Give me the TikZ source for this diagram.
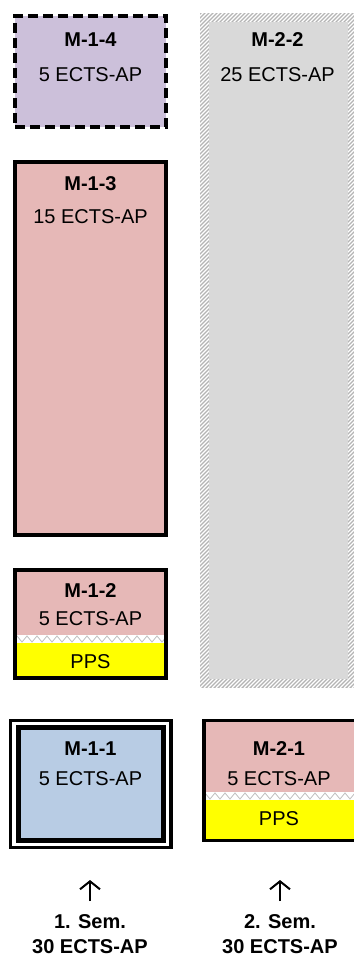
\documentclass[tikz,border=0pt]{standalone}
\usepackage{fontspec}
\setmainfont{Liberation Sans}
\usetikzlibrary{arrows.meta}
\definecolor{lavc}{HTML}{CCC0DA}
\definecolor{pinkc}{HTML}{E6B8B7}
\definecolor{bluec}{HTML}{B8CCE4}
\definecolor{grayc}{HTML}{D9D9D9}
\definecolor{hatchc}{HTML}{B4B4B4}
\definecolor{zigc}{HTML}{C0C0C0}
\definecolor{yelc}{HTML}{FFFF00}
\begin{document}
\begin{tikzpicture}[x=1pt,y=-1pt,
  lbl/.style={font=\fontsize{20}{24}\selectfont, anchor=base, inner sep=0pt},
  blbl/.style={font=\fontsize{20}{24}\selectfont\bfseries, anchor=base, inner sep=0pt},
  modbox/.style={draw=black, line width=4pt, inner sep=0pt},
  zigline/.style={draw=zigc, line width=0.8pt},
  semarrow/.style={draw=black, line width=2pt, -{Straight Barb[length=8pt,width=20pt,line width=2pt]}}]
\useasboundingbox (0,0) rectangle (353,960);

% M-2-2 (hatched frame)
\node[fill=hatchc, inner sep=0pt, minimum width=157pt, minimum height=675pt] (m22) at (278.5,350.5) {};
\begin{scope}
  \clip (200,13) rectangle (357,688);
  \foreach \k in {0,4,...,860} {
    \draw[white, line width=1.3pt] ({200+\k-700},688) -- ({200+\k},-12);
  }
\end{scope}
\node[fill=grayc, inner sep=0pt, minimum width=139pt, minimum height=657pt] (m22in) at (278.5,350.5) {};
\node[blbl] (m22a) at (277.5,47) {M-2-2};
\node[lbl]  (m22b) at (277.5,82) {25 ECTS-AP};

% M-1-4
\node[modbox, fill=lavc, line width=4.5pt, dash pattern=on 10pt off 5pt, minimum width=151pt, minimum height=111pt] (m14) at (90.5,71.5) {};
\node[blbl] (m14a) at (90.5,47) {M-1-4};
\node[lbl]  (m14b) at (90.5,82) {5 ECTS-AP};

% M-1-3
\node[modbox, fill=pinkc, minimum width=151pt, minimum height=373pt] (m13) at (90.5,348.5) {};
\node[blbl] (m13a) at (90.5,190) {M-1-3};
\node[lbl]  (m13b) at (90.5,223) {15 ECTS-AP};

% M-1-2
\node[modbox, fill=pinkc, minimum width=151pt, minimum height=108pt] (m12) at (90.5,624) {};
\fill[white] (17,635) rectangle (164,643);
\fill[yelc] (17,643) rectangle (164,676);
\begin{scope}
  \clip (17,635) rectangle (164,643);
  \draw[zigline] (12,642) \foreach \i in {0,...,15} { -- ({17+10*\i},636) -- ({22+10*\i},642) };
\end{scope}
\node[modbox, minimum width=151pt, minimum height=108pt] (m12f) at (90.5,624) {};
\node[blbl] (m12a) at (90.5,597) {M-1-2};
\node[lbl]  (m12b) at (90.5,625) {5 ECTS-AP};
\node[lbl]  (m12c) at (90.5,668) {PPS};

% M-1-1 (double frame)
\node[modbox, fill=white, line width=3.5pt, minimum width=160.2pt, minimum height=126.9pt] (m11o) at (90.8,784.15) {};
\node[modbox, fill=bluec, line width=4.5pt, minimum width=144.8pt, minimum height=113pt] (m11) at (90.9,784) {};
\node[blbl] (m11a) at (90.5,755) {M-1-1};
\node[lbl]  (m11b) at (90.5,785) {5 ECTS-AP};

% M-2-1
\node[modbox, fill=pinkc, line width=3.5pt, minimum width=153pt, minimum height=120pt] (m21) at (280.5,780.5) {};
\fill[white] (205.75,792) rectangle (355,800);
\fill[yelc] (205.75,800) rectangle (355,838.75);
\begin{scope}
  \clip (205.75,792) rectangle (355,800);
  \draw[zigline] (200,799) \foreach \i in {0,...,15} { -- ({205+10*\i},793) -- ({210+10*\i},799) };
\end{scope}
\node[modbox, line width=3.5pt, minimum width=153pt, minimum height=120pt] (m21f) at (280.5,780.5) {};
\node[blbl] (m21a) at (279,755) {M-2-1};
\node[lbl]  (m21b) at (279,785) {5 ECTS-AP};
\node[lbl]  (m21c) at (279,825) {PPS};

% semester labels
\coordinate (a1s) at (90,901);
\coordinate (a1e) at (90,880);
\coordinate (a2s) at (280,901);
\coordinate (a2e) at (280,880);
\draw[semarrow] (a1s) -- (a1e);
\draw[semarrow] (a2s) -- (a2e);
\node[blbl] (s1a) at (90,928) {1. Sem.};
\node[blbl] (s1b) at (90,953) {30 ECTS-AP};
\node[blbl] (s2a) at (280,928) {2. Sem.};
\node[blbl] (s2b) at (280,953) {30 ECTS-AP};
\end{tikzpicture}
\end{document}
